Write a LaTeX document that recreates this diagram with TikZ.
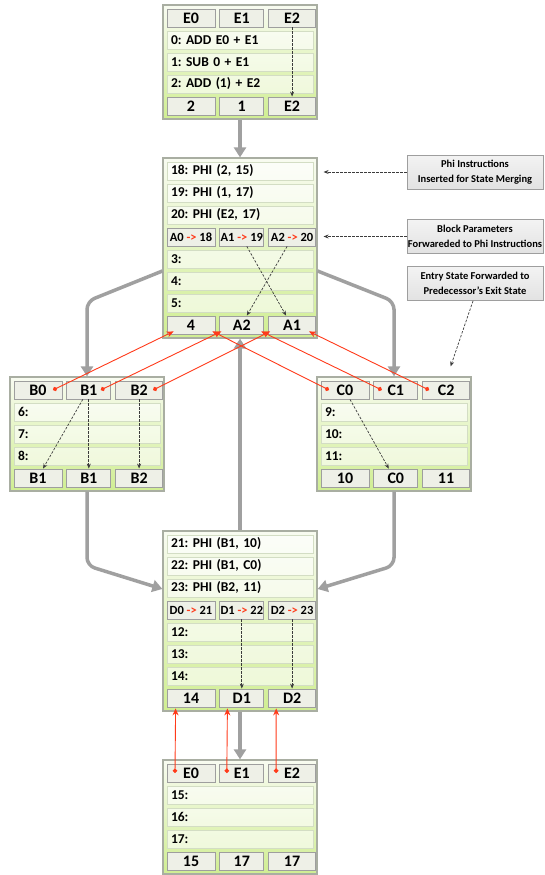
\documentclass[tikz,border=0pt]{standalone}
\usepackage{fontspec}
\setmainfont{Carlito}
\frenchspacing
\usetikzlibrary{shapes, arrows.meta, calc, positioning}

\definecolor{blockline}{HTML}{A9AEA2}
\definecolor{blocktop}{HTML}{F8FBF1}
\definecolor{blockbot}{HTML}{D0EE92}
\definecolor{rowline}{HTML}{D3DDC4}
\definecolor{cellline}{HTML}{9E9E9E}
\definecolor{cellfill}{HTML}{EEF0E7}
\definecolor{notetop}{HTML}{F3F3F3}
\definecolor{notebot}{HTML}{E2E2E2}
\definecolor{flowgray}{HTML}{A0A0A0}
\definecolor{feedred}{HTML}{FF3A1A}
\definecolor{hintgray}{HTML}{3C3C3C}

\begin{document}
\begin{tikzpicture}[x=1pt, y=-1pt, >=Stealth, font=\bfseries]
	\tikzstyle{block} = [draw=blockline, line width=1.2pt, top color=blocktop, bottom color=blockbot, minimum width=154pt, inner sep=0pt]
	\tikzstyle{row} = [draw=rowline, line width=0.8pt, fill=white, fill opacity=0.6, text opacity=1, minimum height=18pt, text width=138pt, inner xsep=4pt, inner ysep=0pt, align=left, font=\fontsize{13.5}{13.5}\selectfont\bfseries\frenchspacing]
	\tikzstyle{cell} = [draw=cellline, line width=0.8pt, fill=cellfill, minimum height=18pt, inner sep=0pt, font=\fontsize{16}{16}\selectfont\bfseries]
	\tikzstyle{colone} = [cell, minimum width=48pt]
	\tikzstyle{coltwo} = [cell, minimum width=44pt]
	\tikzstyle{colthree} = [cell, minimum width=47pt]
	\tikzstyle{argcell} = [font=\fontsize{12.5}{12.5}\selectfont\bfseries]
	\tikzstyle{note} = [draw=cellline, line width=0.8pt, top color=notetop, bottom color=notebot, minimum width=136pt, minimum height=34pt, inner sep=0pt, align=center, font=\fontsize{10.5}{15}\selectfont\bfseries]
	\tikzstyle{flow} = [draw=flowgray, line width=3.5pt, rounded corners=8pt, -{Triangle[width=12pt, length=10pt]}]
	\tikzstyle{feed} = [draw=feedred, line width=0.9pt, {Circle[length=4.5pt]}-{Stealth[length=7pt, width=6pt]}]
	\tikzstyle{hint} = [draw=hintgray, line width=0.7pt, dash pattern=on 2.5pt off 1.5pt, -{Stealth[length=5pt, width=4pt]}]

	\useasboundingbox[fill=white] (0,0) rectangle (544,875);

	% entry block
	\node[block, minimum height=114pt] (eblk) at (240,62) {};
	\node[colone] (ein0) at (191,18) {E0};
	\node[coltwo, right=4pt of ein0] (ein1) {E1};
	\node[colthree, right=4pt of ein1] (ein2) {E2};
	\node[row] (r0) at (240,40) {0: ADD E0 + E1};
	\node[row] (r1) at (240,62) {1: SUB 0 + E1};
	\node[row] (r2) at (240,84) {2: ADD (1) + E2};
	\node[colone] (eout0) at (191,106) {2};
	\node[coltwo, right=4pt of eout0] (eout1) {1};
	\node[colthree, right=4pt of eout1] (eout2) {E2};

	% merge block A
	\node[block, minimum height=180pt] (ablk) at (240,248) {};
	\node[row] (r18) at (240,171) {18: PHI (2, 15)};
	\node[row] (r19) at (240,193) {19: PHI (1, 17)};
	\node[row] (r20) at (240,215) {20: PHI (E2, 17)};
	\node[colone, argcell] (ain0) at (191,237) {A0 \textcolor{feedred}{->} 18};
	\node[coltwo, argcell, right=4pt of ain0] (ain1) {A1 \textcolor{feedred}{->} 19};
	\node[colthree, argcell, right=4pt of ain1] (ain2) {A2 \textcolor{feedred}{->} 20};
	\node[row] (r3) at (240,259) {3:};
	\node[row] (r4) at (240,281) {4:};
	\node[row] (r5) at (240,303) {5:};
	\node[colone] (aout0) at (191,325) {4};
	\node[coltwo, right=4pt of aout0] (aout1) {A2};
	\node[colthree, right=4pt of aout1] (aout2) {A1};

	% branch block B
	\node[block, minimum height=114pt] (bblk) at (87,434) {};
	\node[colone] (bin0) at (38,390) {B0};
	\node[coltwo, right=4pt of bin0] (bin1) {B1};
	\node[colthree, right=4pt of bin1] (bin2) {B2};
	\node[row] (r6) at (87,412) {6:};
	\node[row] (r7) at (87,434) {7:};
	\node[row] (r8) at (87,456) {8:};
	\node[colone] (bout0) at (38,478) {B1};
	\node[coltwo, right=4pt of bout0] (bout1) {B1};
	\node[colthree, right=4pt of bout1] (bout2) {B2};

	% branch block C
	\node[block, minimum height=114pt] (cblk) at (394,434) {};
	\node[colone] (cin0) at (345,390) {C0};
	\node[coltwo, right=4pt of cin0] (cin1) {C1};
	\node[colthree, right=4pt of cin1] (cin2) {C2};
	\node[row] (r9) at (394,412) {9:};
	\node[row] (r10) at (394,434) {10:};
	\node[row] (r11) at (394,456) {11:};
	\node[colone] (cout0) at (345,478) {10};
	\node[coltwo, right=4pt of cout0] (cout1) {C0};
	\node[colthree, right=4pt of cout1] (cout2) {11};

	% merge block D
	\node[block, minimum height=180pt] (dblk) at (240,621) {};
	\node[row] (r21) at (240,544) {21: PHI (B1, 10)};
	\node[row] (r22) at (240,566) {22: PHI (B1, C0)};
	\node[row] (r23) at (240,588) {23: PHI (B2, 11)};
	\node[colone, argcell] (din0) at (191,610) {D0 \textcolor{feedred}{->} 21};
	\node[coltwo, argcell, right=4pt of din0] (din1) {D1 \textcolor{feedred}{->} 22};
	\node[colthree, argcell, right=4pt of din1] (din2) {D2 \textcolor{feedred}{->} 23};
	\node[row] (r12) at (240,632) {12:};
	\node[row] (r13) at (240,654) {13:};
	\node[row] (r14) at (240,676) {14:};
	\node[colone] (dout0) at (191,698) {14};
	\node[coltwo, right=4pt of dout0] (dout1) {D1};
	\node[colthree, right=4pt of dout1] (dout2) {D2};

	% loop block
	\node[block, minimum height=114pt] (xblk) at (240,817) {};
	\node[colone] (xin0) at (191,773) {E0};
	\node[coltwo, right=4pt of xin0] (xin1) {E1};
	\node[colthree, right=4pt of xin1] (xin2) {E2};
	\node[row] (r15) at (240,795) {15:};
	\node[row] (r16) at (240,817) {16:};
	\node[row] (r17) at (240,839) {17:};
	\node[colone] (xout0) at (191,861) {15};
	\node[coltwo, right=4pt of xout0] (xout1) {17};
	\node[colthree, right=4pt of xout1] (xout2) {17};

	% notes
	\node[note] (note1) at (475,172) {Phi Instructions\\Inserted for State Merging};
	\node[note] (note2) at (475,236.5) {Block Parameters\\Forwareded to Phi Instructions};
	\node[note] (note3) at (475,283.5) {Entry State Forwarded to\\Predecessor's Exit State};

	% control flow
	\draw[flow] (eblk.south) -- (ablk.north);
	\draw[flow] ($(ablk.west)+(0,23)$) -- ($(bblk.north)+(0,-75)$) -- (bblk.north);
	\draw[flow] ($(ablk.east)+(0,23)$) -- ($(cblk.north)+(0,-75)$) -- (cblk.north);
	\draw[flow] (bblk.south) -- ($(bblk.south)+(0,74)$) -- ($(dblk.west)+(0,-32)$);
	\draw[flow] (cblk.south) -- ($(cblk.south)+(0,74)$) -- ($(dblk.east)+(0,-32)$);
	\draw[flow] (dblk.north) -- (ablk.south);
	\draw[flow] (dblk.south) -- (xblk.north);

	% values kept inside a block
	\draw[hint] (ein2.south) -- (eout2.north);
	\draw[hint] ($(ain1.south)+(5,0)$) -- ($(aout2.north)+(-6,0)$);
	\draw[hint] ($(ain2.south)+(-5,0)$) -- ($(aout1.north)+(5,0)$);
	\draw[hint] ($(bin1.south)+(-6,0)$) -- ($(bout0.north)+(5,0)$);
	\draw[hint] (bin1.south) -- (bout1.north);
	\draw[hint] (bin2.south) -- (bout2.north);
	\draw[hint] ($(cin0.south)+(5,0)$) -- ($(cout1.north)+(-7,0)$);
	\draw[hint] (din1.south) -- (dout1.north);
	\draw[hint] (din2.south) -- (dout2.north);

	% note pointers
	\draw[hint, shorten >=6pt] (note1.west) -- (note1.west -| ablk.east);
	\draw[hint, shorten >=6pt] (note2.west) -- (note2.west -| ablk.east);
	\draw[hint] ($(note3.south)+(-2,0)$) -- ($(cblk.north east)+(-21,-10)$);

	% entry states forwarded to exit states
	\draw[feed] ($(bin0.center)+(15,0)$) -- ($(aout0.south west)+(7,-3)$);
	\draw[feed] ($(bin1.center)+(12,0)$) -- ($(aout1.south west)+(2,-3)$);
	\draw[feed] ($(bin2.center)+(14,0)$) -- ($(aout2.south west)+(2,-3)$);
	\draw[feed] ($(cin0.center)+(-16,0)$) -- ($(aout0.south east)+(-3,-3)$);
	\draw[feed] ($(cin1.center)+(-14,0)$) -- ($(aout1.south east)+(-3,-3)$);
	\draw[feed] ($(cin2.center)+(-17,0)$) -- ($(aout2.south east)+(-7,-3)$);
	\draw[feed] ($(xin0.center)+(-16,0)$) -- ($(dout0.south west)+(9,1)$);
	\draw[feed] ($(xin1.center)+(-15,0)$) -- ($(dout1.south west)+(8,1)$);
	\draw[feed] ($(xin2.center)+(-16,0)$) -- ($(dout2.south west)+(8,1)$);
\end{tikzpicture}
\end{document}
